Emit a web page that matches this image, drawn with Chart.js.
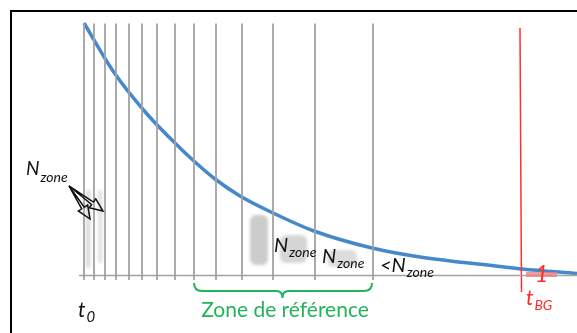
<!DOCTYPE html>
<html><head><meta charset="utf-8">
<script src="https://cdn.jsdelivr.net/npm/chart.js@4.4.1/dist/chart.umd.min.js"></script>
<style>html,body{margin:0;padding:0;background:#fff;}#wrap{width:577px;height:333px;position:relative;}</style>
</head><body><div id="wrap"><canvas id="c"></canvas></div>
<script>
// Decay curve (time units, counts above baseline)
const curveX = [84, 113, 147, 180, 195, 215, 240, 273, 314, 372, 420, 500, 522, 577];
const curveY = [252, 204, 161, 127, 113, 96, 79, 62, 44, 27, 18, 8.5, 6, 1.5];
// Zone boundaries (gray vertical lines)
const gridX = [84, 94, 105, 116, 129, 142, 157, 175, 194, 216, 242, 273, 315, 373];
const gridRange = [251.5, -5];
// Baseline
const baseX = [79, 577];
// Background time t_BG (red line)
const bgX = [520, 521.5];
const bgY = [247, -17];
// Frame
const frameX = [11, 11, 577];
const frameY = [-58, 264, 264];
// Labels
const subLabel = "zone";
const referenceLabel = "Zone de référence";
const bgLabel = ["t", "BG"];
const t0Label = ["t", "0"];
const bgCount = "1";

const blobs = [ // [x1, x2, yTop, yBottom, grey]
  [86, 90.5, 85, 7, 220], [98, 102.5, 85, 12, 226],
  [250, 268, 60, 10, 204], [280, 307, 40, 12, 214], [327, 357, 25, 8, 220]
];
const nzone = [ // prefix, x, baseline(y), N size, sub size, sub drop
  ["N", 26, 100, 19, 14, 7], ["N", 274, 23, 20, 14, 5],
  ["N", 322, 12, 20, 14, 5], ["<N", 380, 3, 20, 14, 5]
];

const gridData = [];
gridX.forEach(x => { gridData.push({x, y: gridRange[0]}, {x, y: gridRange[1]}, {x, y: null}); });

const F = "Lato, 'Open Sans', sans-serif";
const deco = {
  id: 'deco',
  beforeDatasetsDraw(chart) {
    const {ctx, scales: {x, y}} = chart;
    ctx.save();
    ctx.filter = 'blur(1.5px)';
    blobs.forEach(b => {
      const x1 = x.getPixelForValue(b[0]), x2 = x.getPixelForValue(b[1]);
      const y1 = y.getPixelForValue(b[2]), y2 = y.getPixelForValue(b[3]);
      ctx.fillStyle = `rgb(${b[4]},${b[4]},${b[4]})`;
      ctx.beginPath();
      ctx.roundRect(x1, y1, x2 - x1, y2 - y1, Math.min(6, (x2 - x1) / 2));
      ctx.fill();
    });
    ctx.restore();
  },
  afterDatasetsDraw(chart) {
    const {ctx, scales: {x, y}} = chart;
    const X = v => x.getPixelForValue(v), Y = v => y.getPixelForValue(v);
    ctx.save();
    // pink blob under "1"
    ctx.fillStyle = 'rgba(236,130,130,0.8)';
    ctx.fillRect(X(526), Y(3), X(557) - X(526), Y(-2) - Y(3));
    // N_zone labels
    ctx.fillStyle = '#111';
    ctx.textBaseline = 'alphabetic';
    nzone.forEach(n => {
      ctx.font = `italic ${n[3]}px ${F}`;
      const px = X(n[1]), py = Y(n[2]);
      ctx.fillText(n[0], px, py);
      const w = ctx.measureText(n[0]).width;
      ctx.font = `italic ${n[4]}px ${F}`;
      ctx.fillText(subLabel, px + w + 1, py + n[5]);
    });
    // arrows
    ctx.strokeStyle = '#111';
    ctx.lineWidth = 1.5;
    const arrows = [[69, 89, 90, 56], [69, 89, 103, 64]];
    arrows.forEach(a => {
      const x0 = X(a[0]), y0 = Y(a[1]), x1 = X(a[2]), y1 = Y(a[3]);
      const dx = x1 - x0, dy = y1 - y0, L = Math.hypot(dx, dy);
      const ux = dx / L, uy = dy / L, qx = -uy, qy = ux;
      const bx = x1 - 13 * ux, by = y1 - 13 * uy;
      ctx.beginPath();
      ctx.moveTo(x0, y0);
      ctx.lineTo(bx + 1.5 * qx, by + 1.5 * qy);
      ctx.lineTo(bx + 5.5 * qx, by + 5.5 * qy);
      ctx.lineTo(x1, y1);
      ctx.lineTo(bx - 5.5 * qx, by - 5.5 * qy);
      ctx.lineTo(bx - 1.5 * qx, by - 1.5 * qy);
      ctx.closePath();
      ctx.stroke();
    });
    // t0
    ctx.font = `italic 21px ${F}`;
    ctx.fillText(t0Label[0], X(78), Y(-42));
    let w = ctx.measureText(t0Label[0]).width;
    ctx.font = `italic 15px ${F}`;
    ctx.fillText(t0Label[1], X(78) + w + 1, Y(-47));
    // brace
    ctx.strokeStyle = '#22b45a';
    ctx.lineWidth = 2;
    const l = X(194), r = X(372), m = X(282.5), t = Y(-8), h = Y(-16), tip = Y(-23);
    ctx.beginPath();
    ctx.moveTo(l, t);
    ctx.quadraticCurveTo(l, h, l + 8, h);
    ctx.lineTo(m - 6, h);
    ctx.quadraticCurveTo(m, h, m, tip);
    ctx.quadraticCurveTo(m, h, m + 6, h);
    ctx.lineTo(r - 8, h);
    ctx.quadraticCurveTo(r, h, r, t);
    ctx.stroke();
    ctx.fillStyle = '#22b45a';
    ctx.font = `21px ${F}`;
    ctx.textAlign = 'center';
    ctx.fillText(referenceLabel, X(285), Y(-42));
    ctx.textAlign = 'left';
    // t_BG and "1"
    ctx.fillStyle = '#ff2a2a';
    ctx.font = `italic 23px ${F}`;
    ctx.fillText(bgCount, X(535), Y(-7));
    ctx.font = `italic 21px ${F}`;
    ctx.fillText(bgLabel[0], X(526), Y(-30));
    w = ctx.measureText(bgLabel[0]).width;
    ctx.font = `italic 14px ${F}`;
    ctx.fillText(bgLabel[1], X(526) + w + 1, Y(-35));
    ctx.restore();
  }
};

new Chart(document.getElementById('c'), {
  type: 'line',
  data: {
    datasets: [
      { data: frameX.map((v, i) => ({x: v, y: frameY[i]})), borderColor: '#000', borderWidth: 2 },
      { data: gridData, borderColor: '#a2a2a2', borderWidth: 1.8, spanGaps: false },
      { data: baseX.map(v => ({x: v, y: -0.5})), borderColor: '#a2a2a2', borderWidth: 1.6 },
      { data: bgX.map((v, i) => ({x: v, y: bgY[i]})), borderColor: '#ff3030', borderWidth: 1.5 },
      { data: curveX.map((v, i) => ({x: v, y: curveY[i]})), borderColor: '#4689cb', borderWidth: 3.5, cubicInterpolationMode: 'monotone' }
    ]
  },
  options: {
    responsive: true, maintainAspectRatio: false, animation: false,
    layout: {padding: 0},
    elements: {point: {radius: 0}, line: {tension: 0, borderCapStyle: 'butt'}},
    plugins: {legend: {display: false}, tooltip: {enabled: false}},
    scales: {
      x: {type: 'linear', min: 0, max: 577, display: false},
      y: {type: 'linear', min: -58, max: 275, display: false}
    }
  },
  plugins: [deco]
});
</script></body></html>
